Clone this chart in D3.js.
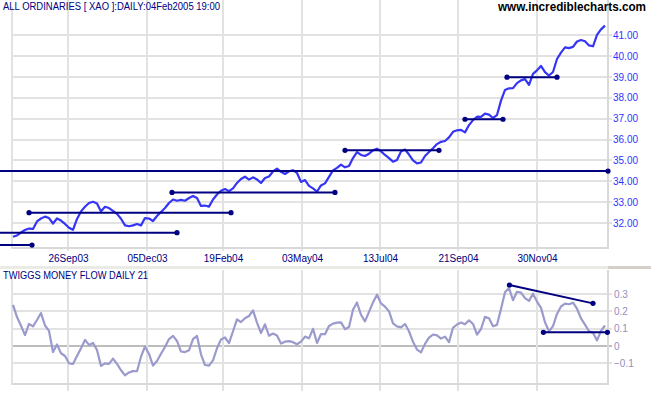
<!DOCTYPE html>
<html>
<head>
<meta charset="utf-8">
<script src="https://cdn.jsdelivr.net/npm/d3@7"></script>
<style>
  body { margin: 0; background: #fff; }
  svg { display: block; font-family: "Liberation Sans", Arial, sans-serif; }
</style>
</head>
<body>
<svg width="651" height="395"></svg>
<script>
// ALL ORDINARIES daily close, sampled every ~2.5 trading days (Aug 2003 - Feb 2005)
const price = [
  31.35, 31.41, 31.55, 31.67, 31.74, 31.72, 32.08, 32.22, 32.31, 32.24,
  31.98, 32.22, 32.12, 31.96, 31.78, 31.68, 32.20, 32.56, 32.78, 32.96,
  33.02, 32.94, 32.56, 32.78, 32.72, 32.58, 32.44, 32.21, 31.89, 31.85,
  31.89, 31.96, 31.89, 32.24, 32.22, 32.10, 32.34, 32.53, 32.72, 32.96,
  33.13, 33.07, 33.11, 33.07, 33.20, 33.30, 33.20, 32.82, 32.84, 32.79,
  33.13, 33.37, 33.55, 33.63, 33.53, 33.66, 33.92, 34.11, 34.22, 34.08,
  34.19, 34.09, 33.92, 34.16, 34.23, 34.47, 34.61, 34.45, 34.35, 34.48,
  34.53, 34.40, 33.97, 34.06, 33.78, 33.66, 33.51, 33.80, 33.90, 34.21,
  34.52, 34.64, 34.80, 34.67, 34.73, 35.11, 35.40, 35.26, 35.21, 35.32,
  35.48, 35.56, 35.43, 35.26, 35.11, 34.94, 35.02, 35.43, 35.52, 35.28,
  35.00, 34.86, 34.90, 35.21, 35.40, 35.58, 35.78, 35.89, 35.93, 36.10,
  36.37, 36.44, 36.46, 36.34, 36.69, 36.93, 37.09, 37.08, 37.24, 37.19,
  37.03, 37.17, 37.86, 38.37, 38.45, 38.46, 38.70, 38.83, 38.89, 38.61,
  39.14, 39.31, 39.52, 39.22, 39.06, 39.23, 39.85, 40.16, 40.41, 40.37,
  40.43, 40.69, 40.76, 40.70, 40.50, 40.46, 41.01, 41.27, 41.45
];

// Twiggs Money Flow (21)
const tmf = [
  0.237, 0.167, 0.117, 0.063, 0.127, 0.113, 0.150, 0.190, 0.118, 0.087,
  -0.035, 0.009, -0.042, -0.058, -0.100, -0.104, -0.058, -0.013, 0.035, 0.006,
  0.018, -0.023, -0.115, -0.100, -0.103, -0.073, -0.103, -0.140, -0.170, -0.153,
  -0.145, -0.146, -0.062, -0.003, -0.046, -0.113, -0.087, -0.045, -0.006, 0.040,
  0.058, 0.029, -0.032, -0.035, -0.025, 0.039, 0.058, -0.048, -0.110, -0.113,
  -0.083, -0.013, 0.038, 0.049, 0.017, 0.085, 0.153, 0.138, 0.160, 0.173,
  0.205, 0.135, 0.075, 0.125, 0.059, 0.072, 0.060, 0.014, 0.025, 0.028,
  0.022, 0.010, 0.025, 0.054, 0.044, 0.099, 0.017, 0.069, 0.068, 0.115,
  0.129, 0.135, 0.136, 0.097, 0.110, 0.209, 0.251, 0.180, 0.142, 0.197,
  0.252, 0.296, 0.246, 0.227, 0.201, 0.130, 0.113, 0.107, 0.127, 0.085,
  0.024, -0.021, -0.037, 0.012, 0.048, 0.066, 0.061, 0.043, 0.054, 0.022,
  0.105, 0.124, 0.135, 0.125, 0.148, 0.127, 0.065, 0.098, 0.168, 0.160,
  0.114, 0.122, 0.214, 0.310, 0.335, 0.264, 0.313, 0.308, 0.276, 0.260,
  0.302, 0.256, 0.220, 0.137, 0.084, 0.115, 0.185, 0.228, 0.244, 0.241,
  0.250, 0.215, 0.159, 0.123, 0.085, 0.076, 0.032, 0.087, 0.118
];

const dateLabels = ["26Sep03", "05Dec03", "19Feb04", "03May04", "13Jul04", "21Sep04", "30Nov04"];
const dateIdx = [13.75, 33.5, 52.5, 72.25, 91.75, 111.25, 131];
const priceTicks = [32, 33, 34, 35, 36, 37, 38, 39, 40, 41];
const tmfTicks = [-0.1, 0, 0.1, 0.2, 0.3];

// trendlines: [startIdx, startVal, endIdx, endVal]
const priceLines = [
  [-3.25, 30.95, 4.75, 30.95],
  [-3.25, 31.54, 41, 31.54],
  [4, 32.5, 54.5, 32.5],
  [39.75, 33.47, 80.5, 33.47],
  [-3.25, 34.49, 148.75, 34.49],
  [83, 35.48, 106.5, 35.48],
  [113, 36.97, 122.5, 36.97],
  [123.5, 38.98, 136, 38.98]
];
const tmfLines = [
  [124.1, 0.352, 145, 0.246],
  [132.6, 0.079, 148.6, 0.079]
];

const svg = d3.select("svg");
const gridColor = "#e2e2e2";
const frameColor = "#d9d9d9";
const navy = "#000080";

const x = d3.scaleLinear().domain([0, price.length - 1]).range([13, 605]);
const y = d3.scaleLinear().domain([32, 41]).range([223.1, 35]);
const y2 = d3.scaleLinear().domain([-0.1, 0.3]).range([363.3, 294]);

const left = 12, right = 608;

// separator between panes
svg.append("rect").attr("x", 0).attr("y", 266).attr("width", 651).attr("height", 3).attr("fill", "#ebebe6");
svg.append("rect").attr("x", right).attr("y", 266).attr("width", 651 - right).attr("height", 3).attr("fill", "#d4d0c8");

// ---- upper pane grid
const g1 = svg.append("g").attr("shape-rendering", "crispEdges");
g1.selectAll(".hg").data(priceTicks).join("line")
  .attr("x1", left).attr("x2", right + 4)
  .attr("y1", d => Math.round(y(d))).attr("y2", d => Math.round(y(d)))
  .attr("stroke", gridColor).attr("stroke-width", 2);
g1.selectAll(".vg").data(dateIdx).join("line")
  .attr("x1", d => Math.round(x(d))).attr("x2", d => Math.round(x(d)))
  .attr("y1", 0).attr("y2", 251)
  .attr("stroke", gridColor).attr("stroke-width", 2);
g1.append("line").attr("x1", left).attr("x2", left).attr("y1", 7).attr("y2", 249)
  .attr("stroke", gridColor).attr("stroke-width", 2);
g1.append("line").attr("x1", right).attr("x2", right).attr("y1", 0).attr("y2", 249)
  .attr("stroke", frameColor).attr("stroke-width", 2);
g1.append("line").attr("x1", left).attr("x2", right + 1).attr("y1", 248).attr("y2", 248)
  .attr("stroke", frameColor).attr("stroke-width", 2);

// price axis labels
svg.append("g")
  .attr("transform", `translate(${right},0)`)
  .call(d3.axisRight(y).tickValues(priceTicks).tickFormat(d3.format(".2f")).tickSize(0).tickPadding(5))
  .call(g => g.select(".domain").remove())
  .call(g => g.selectAll("text").attr("fill", "#3333ff").style("font-size", "10px"));

// date axis labels
svg.append("g")
  .attr("transform", "translate(0,252)")
  .call(d3.axisBottom(x).tickValues(dateIdx).tickFormat((d, i) => dateLabels[i]).tickSize(0).tickPadding(3))
  .call(g => g.select(".domain").remove())
  .call(g => g.selectAll("text").attr("fill", navy).style("font-size", "10px"));

// price line
svg.append("path")
  .datum(price)
  .attr("fill", "none")
  .attr("stroke", "#3535f5")
  .attr("stroke-width", 2.2)
  .attr("stroke-linejoin", "round")
  .attr("d", d3.line().x((d, i) => x(i)).y(d => y(d)));

// trendlines
const drawTrend = (sel, lines, ys) => {
  const g = sel.append("g");
  g.selectAll("line").data(lines).join("line")
    .attr("x1", d => x(d[0])).attr("y1", d => ys(d[1]))
    .attr("x2", d => x(d[2])).attr("y2", d => ys(d[3]))
    .attr("stroke", navy).attr("stroke-width", 2);
  g.selectAll("circle").data(lines.flatMap(d => [[d[0], d[1]], [d[2], d[3]]]).filter(d => x(d[0]) > 1))
    .join("circle")
    .attr("cx", d => x(d[0])).attr("cy", d => ys(d[1]))
    .attr("r", 2.6).attr("fill", navy);
};
drawTrend(svg, priceLines, y);

// ---- lower pane grid
const g2 = svg.append("g").attr("shape-rendering", "crispEdges");
g2.selectAll("line.h").data(tmfTicks).join("line")
  .attr("x1", left).attr("x2", right + 4)
  .attr("y1", d => Math.round(y2(d))).attr("y2", d => Math.round(y2(d)))
  .attr("stroke", d => d === 0 ? "#bdbdbd" : gridColor).attr("stroke-width", 2);
g2.selectAll("line.v").data(dateIdx).join("line")
  .attr("x1", d => Math.round(x(d))).attr("x2", d => Math.round(x(d)))
  .attr("y1", 270).attr("y2", 391)
  .attr("stroke", gridColor).attr("stroke-width", 2);
g2.append("line").attr("x1", left).attr("x2", left).attr("y1", 279).attr("y2", 385)
  .attr("stroke", gridColor).attr("stroke-width", 2);
g2.append("line").attr("x1", right).attr("x2", right).attr("y1", 270).attr("y2", 385)
  .attr("stroke", frameColor).attr("stroke-width", 2);
g2.append("line").attr("x1", left).attr("x2", right + 1).attr("y1", 384).attr("y2", 384)
  .attr("stroke", frameColor).attr("stroke-width", 2);

svg.append("g")
  .attr("transform", `translate(${right},0)`)
  .call(d3.axisRight(y2).tickValues(tmfTicks).tickFormat(d => d === 0 ? "0" : d3.format(".1f")(d)).tickSize(0).tickPadding(6))
  .call(g => g.select(".domain").remove())
  .call(g => g.selectAll("text").attr("fill", "#9090c0").style("font-size", "10px"));

svg.append("path")
  .datum(tmf)
  .attr("fill", "none")
  .attr("stroke", "#9a9acd")
  .attr("stroke-width", 2.2)
  .attr("stroke-linejoin", "round")
  .attr("d", d3.line().x((d, i) => x(i)).y(d => y2(d)));

drawTrend(svg, tmfLines, y2);

// ---- titles
svg.append("text").attr("x", 3).attr("y", 10)
  .attr("fill", navy).style("font-size", "10px")
  .attr("textLength", 217).attr("lengthAdjust", "spacingAndGlyphs")
  .text("ALL ORDINARIES [ XAO ]:DAILY:04Feb2005 19:00");
svg.append("text").attr("x", 498).attr("y", 11)
  .attr("fill", "#000").style("font-size", "12px").style("font-weight", "bold")
  .attr("textLength", 148).attr("lengthAdjust", "spacingAndGlyphs")
  .text("www.incrediblecharts.com");
svg.append("text").attr("x", 3).attr("y", 279)
  .attr("fill", navy).style("font-size", "10px")
  .attr("textLength", 145).attr("lengthAdjust", "spacingAndGlyphs")
  .text("TWIGGS MONEY FLOW DAILY 21");
</script>
</body>
</html>
